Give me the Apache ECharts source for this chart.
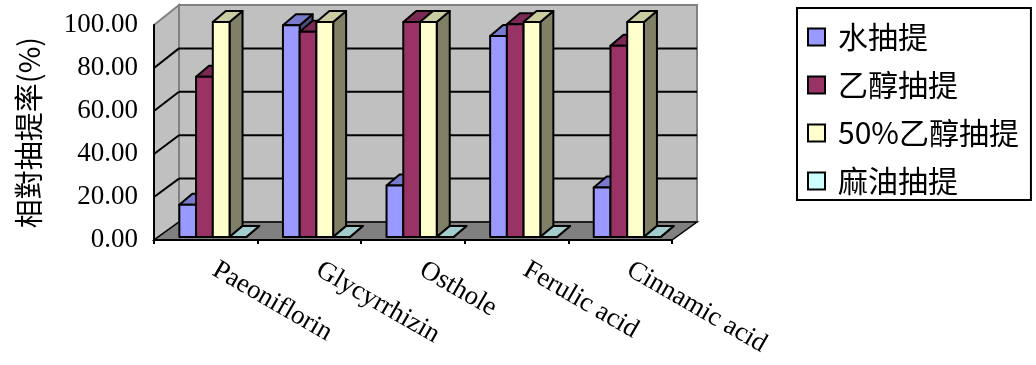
<!DOCTYPE html>
<html>
<head>
<meta charset="utf-8">
<script src="https://cdn.jsdelivr.net/npm/echarts@6/dist/echarts.min.js"></script>
<style>
html,body{margin:0;padding:0;background:#fff;}
#chart{width:1036px;height:365px;}
</style>
</head>
<body>
<div id="chart"></div>
<script>
// ---- data ----
const categories = ['Paeoniflorin', 'Glycyrrhizin', 'Osthole', 'Ferulic acid', 'Cinnamic acid'];
const seriesNames = ['水抽提', '乙醇抽提', '50%乙醇抽提', '麻油抽提'];
const waterExtract = [15, 98.5, 24, 93.5, 23];
const ethanolExtract = [74.5, 95.5, 100, 99, 89];
const ethanol50Extract = [100, 100, 100, 100, 100];
const sesameOilExtract = [0, 0, 0, 0, 0];
const yTicks = [0, 20, 40, 60, 80, 100];
const yAxisTitle = '相對抽提率(%)';

// ---- styles ----
const frontColors = ['#9999FF', '#993366', '#FFFFCC', '#CCFFFF'];
const topColors   = ['#7A7ACC', '#7A2952', '#CCCCA3', '#A3CCCC'];
const sideColors  = ['#4D4D80', '#4D1A33', '#808066', '#668080'];
const DEPTH = [25, -19];   // wall depth offset (px)
const BAR_OFF = [7, -3];   // bar front-face offset from front plane
const CAP = [13, -11];     // bar depth offset
const GROUP_FRACTION = 0.646;

const allValues = [waterExtract, ethanolExtract, ethanol50Extract, sesameOilExtract];

function boxRender(params, api) {
  const cs = params.coordSys;
  const L = cs.x, R = cs.x + cs.width;
  const dx = DEPTH[0];
  const yAt = v => api.coord([0, v])[1];
  const dyAt = v => DEPTH[1] - 2 * v / 100 + 1;
  const y0 = yAt(0), y100 = yAt(100);
  const children = [];
  children.push({type: 'polygon', shape: {points: [[L + dx, y100 + dyAt(100)], [R + dx, y100 + dyAt(100)], [R + dx, y0 + dyAt(0)], [L + dx, y0 + dyAt(0)]]},
    style: {fill: '#C0C0C0', stroke: '#808080', lineWidth: 2}});
  children.push({type: 'polygon', shape: {points: [[L, y100], [L + dx, y100 + dyAt(100)], [L + dx, y0 + dyAt(0)], [L, y0]]},
    style: {fill: '#C0C0C0', stroke: '#808080', lineWidth: 2}});
  yTicks.forEach(v => {
    if (v === 0 || v === 100) return;
    const y = yAt(v), yb = y + dyAt(v);
    children.push({type: 'line', shape: {x1: L + dx, y1: yb, x2: R + dx, y2: yb}, style: {stroke: '#000', lineWidth: 2}});
    children.push({type: 'line', shape: {x1: L, y1: y, x2: L + dx, y2: yb}, style: {stroke: '#000', lineWidth: 2}});
  });
  children.push({type: 'polygon', shape: {points: [[L, y0], [R, y0], [R + dx, y0 + dyAt(0)], [L + dx, y0 + dyAt(0)]]},
    style: {fill: '#808080', stroke: '#000', lineWidth: 1.5}});
  return {type: 'group', children: children};
}

function makeBarRender(sIdx) {
  return function (params, api) {
    const ci = api.value(0), v = api.value(1);
    const base = api.coord([ci, 0]);
    const top = api.coord([ci, v]);
    const band = api.size([1, 0])[0];
    const bw = band * GROUP_FRACTION / 4;
    const x0 = base[0] - 2 * bw + sIdx * bw + BAR_OFF[0];
    const x1 = x0 + bw;
    const yb = base[1] + BAR_OFF[1];
    const yt = top[1] + BAR_OFF[1];
    const st = {stroke: '#000', lineWidth: 2, lineJoin: 'round'};
    return {type: 'group', children: [
      {type: 'polygon', shape: {points: [[x1, yt], [x1 + CAP[0], yt + CAP[1]], [x1 + CAP[0], yb + CAP[1]], [x1, yb]]},
        style: Object.assign({fill: sideColors[sIdx]}, st)},
      {type: 'polygon', shape: {points: [[x0, yt], [x1, yt], [x1 + CAP[0], yt + CAP[1]], [x0 + CAP[0], yt + CAP[1]]]},
        style: Object.assign({fill: topColors[sIdx]}, st)},
      {type: 'rect', shape: {x: x0, y: yt, width: bw, height: Math.max(yb - yt, 0)},
        style: Object.assign({fill: frontColors[sIdx]}, st)}
    ]};
  };
}

const series = [{
  type: 'custom', name: '_box', z: 1, silent: true,
  renderItem: boxRender, data: [[0, 0]], encode: {x: 0, y: 1}
}];
seriesNames.forEach((name, s) => {
  series.push({
    type: 'custom', name: name, z: 2 + s,
    itemStyle: {color: frontColors[s]},
    renderItem: makeBarRender(s),
    data: categories.map((c, i) => [i, allValues[s][i]]),
    encode: {x: 0, y: 1}
  });
});

const chart = echarts.init(document.getElementById('chart'), null, {renderer: 'canvas'});
chart.setOption({
  animation: false,
  backgroundColor: '#fff',
  grid: {left: 154, right: 364, top: 25, bottom: 125, containLabel: false},
  xAxis: {
    type: 'category', data: categories, boundaryGap: true, z: 10,
    axisLine: {show: true, lineStyle: {color: '#000', width: 2}},
    axisTick: {show: true, length: 4, lineStyle: {color: '#000', width: 2}},
    axisLabel: {rotate: -30, margin: 23, fontSize: 27, fontFamily: 'Liberation Serif', color: '#000', interval: 0,
      padding: [0, 0, 0, 10]},
    splitLine: {show: false}
  },
  yAxis: {
    type: 'value', min: 0, max: 100, interval: 20, z: 10,
    name: yAxisTitle, nameLocation: 'middle', nameRotate: 90, nameGap: 111,
    nameTextStyle: {fontSize: 29, fontFamily: 'Noto Sans CJK TC', color: '#000'},
    axisLine: {show: true, lineStyle: {color: '#000', width: 2}},
    axisTick: {show: false},
    axisLabel: {margin: 16, fontSize: 27, fontFamily: 'Liberation Serif', color: '#000',
      formatter: v => v.toFixed(2)},
    splitLine: {show: false}
  },
  legend: {
    data: seriesNames, orient: 'vertical', left: 797, top: 8,
    padding: [14, 12, 4, 10], borderColor: '#000', borderWidth: 2,
    itemWidth: 17, itemHeight: 17, itemGap: 18, icon: 'rect',
    itemStyle: {borderColor: '#000', borderWidth: 2},
    textStyle: {fontSize: 30, fontFamily: 'Noto Sans CJK TC', color: '#000', lineHeight: 30, padding: [0, 0, 0, 8]}
  },
  series: series
});
</script>
</body>
</html>
